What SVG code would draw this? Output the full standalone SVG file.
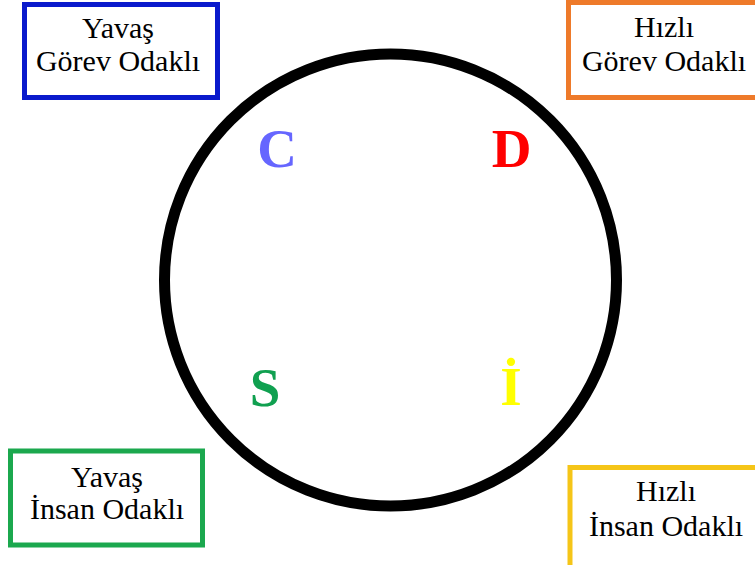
<svg xmlns="http://www.w3.org/2000/svg" width="755" height="565" viewBox="0 0 755 565">
<style>
.box{fill:#fff;stroke-width:5}
.lbl{font-family:"Liberation Serif","Times New Roman",serif;font-size:30px;fill:#000;text-anchor:middle}
.big{font-family:"Liberation Serif","Times New Roman",serif;font-size:55px;font-weight:bold;text-anchor:middle}
</style>
<rect width="755" height="565" fill="#fff"/>
<g id="circle">
<circle cx="390.5" cy="280" r="226" fill="none" stroke="#000" stroke-width="11"/>
</g>
<g id="letters">
<text class="big" x="277" y="167" fill="#6666FF">C</text>
<text class="big" x="511.5" y="167" fill="#FF0000">D</text>
<text class="big" x="265" y="406" fill="#10A050">S</text>
<text class="big" x="511" y="405" fill="#FFFF00">İ</text>
</g>
<g id="node-yavas-gorev">
<rect class="box" x="24.5" y="4.5" width="193" height="93" stroke="#0A1ACC"/>
<text class="lbl" x="118" y="38">Yavaş</text>
<text class="lbl" x="118" y="71">Görev Odaklı</text>
</g>
<g id="node-hizli-gorev">
<rect class="box" x="568.5" y="2.5" width="192" height="95" stroke="#EE7A2A"/>
<text class="lbl" x="664" y="37">Hızlı</text>
<text class="lbl" x="664" y="71">Görev Odaklı</text>
</g>
<g id="node-yavas-insan">
<rect class="box" x="10.5" y="451" width="192" height="94" stroke="#1BA84E"/>
<text class="lbl" x="107" y="487">Yavaş</text>
<text class="lbl" x="107" y="519">İnsan Odaklı</text>
</g>
<g id="node-hizli-insan">
<rect class="box" x="570" y="467.5" width="192" height="100" stroke="#F5C518"/>
<text class="lbl" x="666" y="501">Hızlı</text>
<text class="lbl" x="666" y="536">İnsan Odaklı</text>
</g>
<g id="connectors"></g>
</svg>
